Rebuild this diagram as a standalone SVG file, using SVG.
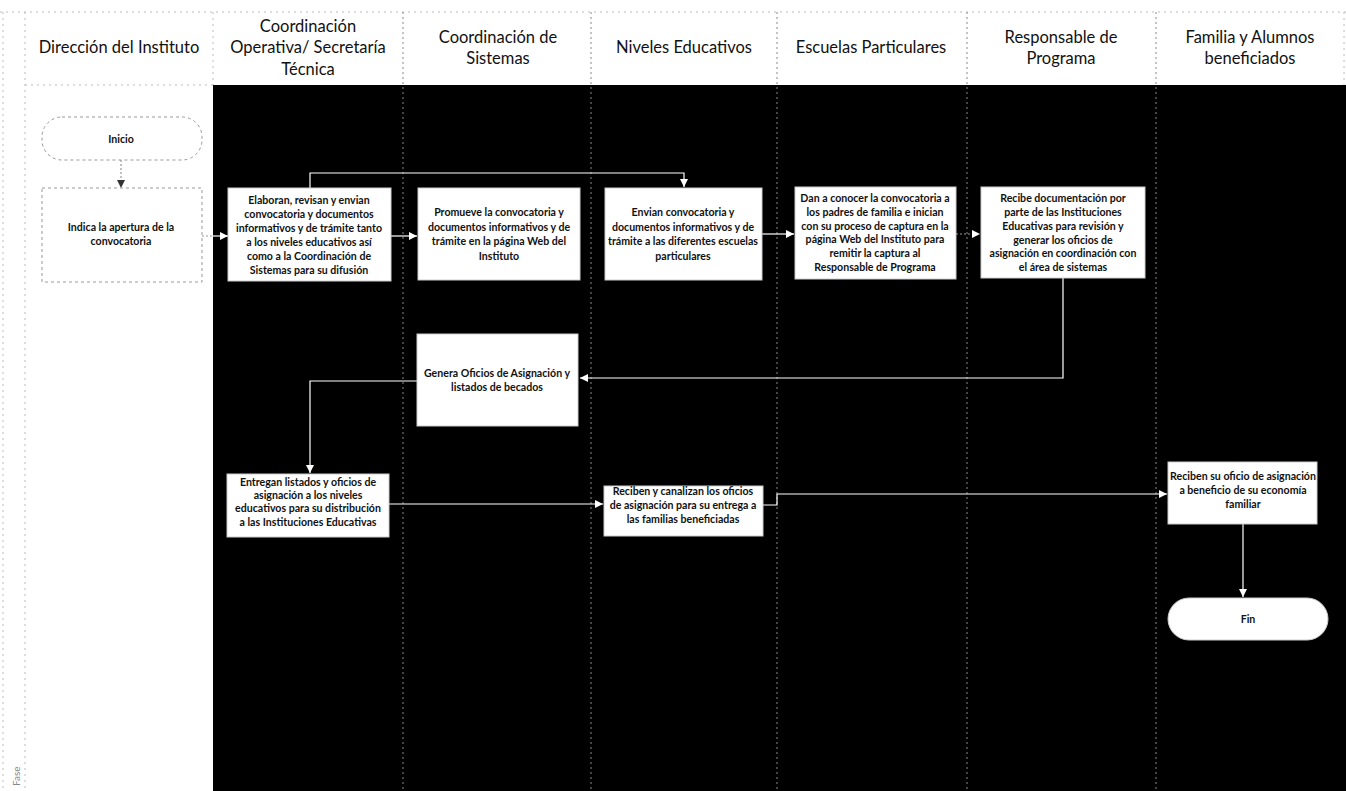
<svg xmlns="http://www.w3.org/2000/svg" width="1346" height="791" viewBox="0 0 1346 791">
<style>
.hd{font-family:Lato,"Liberation Sans",sans-serif;font-size:16.5px;fill:#111;text-anchor:middle}
.tx{font-family:Lato,"Liberation Sans",sans-serif;font-size:10.6px;font-weight:bold;fill:#111;text-anchor:middle}
.box{fill:#fff;stroke:#ccc;stroke-width:1}
.dbox{fill:#fff;stroke:#999;stroke-width:1;stroke-dasharray:3 3}
.lane{stroke:#888;stroke-width:1;stroke-dasharray:2 3;fill:none}
.lanel{stroke:#bbb;stroke-width:1;stroke-dasharray:2 4;fill:none}
.conn{stroke:#fff;stroke-width:1.2;fill:none}
.connd{stroke:#999;stroke-width:1.2;fill:none;stroke-dasharray:2 2}
</style>
<defs>
<marker id="aw" viewBox="0 0 10 10" refX="10" refY="5" markerWidth="8" markerHeight="8" markerUnits="userSpaceOnUse" orient="auto"><path d="M0,0L10,5L0,10z" fill="#fff"/></marker>
<marker id="ak" viewBox="0 0 10 10" refX="10" refY="5" markerWidth="8" markerHeight="8" markerUnits="userSpaceOnUse" orient="auto"><path d="M0,0L10,5L0,10z" fill="#333"/></marker>
</defs>
<rect width="1346" height="791" fill="#fff"/>
<rect x="213" y="85" width="1133" height="706" fill="#000"/>
<g id="lanes">
<line class="lanel" x1="0" y1="12" x2="1346" y2="12"/>
<line class="lanel" x1="25" y1="85" x2="213" y2="85"/>
<line class="lanel" x1="25" y1="12" x2="25" y2="791"/>
<line class="lanel" x1="3" y1="12" x2="3" y2="791"/>
<line class="lanel" x1="213" y1="12" x2="213" y2="85"/>
<line class="lane" x1="403" y1="12" x2="403" y2="791"/>
<line class="lane" x1="591" y1="12" x2="591" y2="791"/>
<line class="lane" x1="777" y1="12" x2="777" y2="791"/>
<line class="lane" x1="967" y1="12" x2="967" y2="791"/>
<line class="lane" x1="1156" y1="12" x2="1156" y2="791"/>
<line class="lanel" x1="1344" y1="12" x2="1344" y2="85"/>
</g>
<g id="headers">
<text class="hd" x="119" y="53">Dirección del Instituto</text>
<text class="hd" x="308" y="32">Coordinación</text>
<text class="hd" x="308" y="53">Operativa/ Secretaría</text>
<text class="hd" x="308" y="75">Técnica</text>
<text class="hd" x="498" y="43">Coordinación de</text>
<text class="hd" x="498" y="64">Sistemas</text>
<text class="hd" x="684" y="53">Niveles Educativos</text>
<text class="hd" x="871" y="53">Escuelas Particulares</text>
<text class="hd" x="1061" y="43">Responsable de</text>
<text class="hd" x="1061" y="64">Programa</text>
<text class="hd" x="1250" y="43">Familia y Alumnos</text>
<text class="hd" x="1250" y="64">beneficiados</text>
<text x="20" y="786" transform="rotate(-90 20 786)" font-family="Lato,'Liberation Sans',sans-serif" font-size="10" fill="#888">Fase</text>
</g>
<g id="connectors">
<path class="connd" d="M121,160V188" marker-end="url(#ak)"/>
<path class="connd" d="M202,236H213"/>
<path class="conn" d="M213,236H228" marker-end="url(#aw)"/>
<path class="conn" d="M310,188V173H684V187" marker-end="url(#aw)"/>
<path class="conn" d="M391,236H417" marker-end="url(#aw)"/>
<path class="conn" d="M762,234H794" marker-end="url(#aw)"/>
<path class="connd" d="M956,234H980" marker-end="url(#aw)"/>
<path class="conn" d="M1063,278V378H580" marker-end="url(#aw)"/>
<path class="conn" d="M417,381H310V473" marker-end="url(#aw)"/>
<path class="conn" d="M389,504H603" marker-end="url(#aw)"/>
<path class="conn" d="M763,505H777V494H1167" marker-end="url(#aw)"/>
<path class="conn" d="M1243,524V597" marker-end="url(#aw)"/>
</g>
<g id="inicio">
<rect class="dbox" x="42" y="117" width="160" height="43" rx="20"/>
<text class="tx" x="121" y="143">Inicio</text>
</g>
<g id="indica">
<rect class="dbox" x="42" y="188" width="160" height="94"/>
<text class="tx" x="121" y="231">Indica la apertura de la</text>
<text class="tx" x="121" y="245">convocatoria</text>
</g>
<g id="elaboran">
<rect class="box" x="228" y="188" width="163" height="93"/>
<text class="tx" x="309" y="204">Elaboran, revisan y envian</text>
<text class="tx" x="309" y="218">convocatoria y documentos</text>
<text class="tx" x="309" y="232">informativos y de trámite tanto</text>
<text class="tx" x="309" y="246">a los niveles educativos así</text>
<text class="tx" x="309" y="260">como  a la Coordinación de</text>
<text class="tx" x="309" y="274">Sistemas para su difusión</text>
</g>
<g id="promueve">
<rect class="box" x="418" y="188" width="162" height="92"/>
<text class="tx" x="499" y="216">Promueve la convocatoria y</text>
<text class="tx" x="499" y="231">documentos informativos y de</text>
<text class="tx" x="499" y="245">trámite en la página Web del</text>
<text class="tx" x="499" y="260">Instituto</text>
</g>
<g id="envian">
<rect class="box" x="605" y="188" width="157" height="92"/>
<text class="tx" x="683" y="216">Envian convocatoria y</text>
<text class="tx" x="683" y="231">documentos informativos y de</text>
<text class="tx" x="683" y="245">trámite a las diferentes escuelas</text>
<text class="tx" x="683" y="260">particulares</text>
</g>
<g id="dan">
<rect class="box" x="795" y="187" width="161" height="92"/>
<text class="tx" x="875" y="202">Dan a conocer la convocatoria a</text>
<text class="tx" x="875" y="216">los padres de familia e inician</text>
<text class="tx" x="875" y="230">con su proceso de captura en la</text>
<text class="tx" x="875" y="243">página Web del Instituto  para</text>
<text class="tx" x="875" y="257">remitir la captura al</text>
<text class="tx" x="875" y="271">Responsable de Programa</text>
</g>
<g id="recibe">
<rect class="box" x="981" y="187" width="164" height="91"/>
<text class="tx" x="1063" y="202">Recibe documentación por</text>
<text class="tx" x="1063" y="216">parte de las Instituciones</text>
<text class="tx" x="1063" y="230">Educativas para revisión y</text>
<text class="tx" x="1063" y="244">generar los oficios de</text>
<text class="tx" x="1063" y="257">asignación en coordinación con</text>
<text class="tx" x="1063" y="271">el área de sistemas</text>
</g>
<g id="genera">
<rect class="box" x="417" y="334" width="161" height="92"/>
<text class="tx" x="497" y="377">Genera Oficios de Asignación y</text>
<text class="tx" x="497" y="391">listados de becados</text>
</g>
<g id="entregan">
<rect class="box" x="227" y="474" width="162" height="63"/>
<text class="tx" x="308" y="486">Entregan listados y oficios de</text>
<text class="tx" x="308" y="499">asignación a los niveles</text>
<text class="tx" x="308" y="512">educativos para su distribución</text>
<text class="tx" x="308" y="526">a las Instituciones Educativas</text>
</g>
<g id="reciben">
<rect class="box" x="604" y="486" width="159" height="50"/>
<text class="tx" x="683" y="495">Reciben y canalizan los oficios</text>
<text class="tx" x="683" y="509">de asignación para su entrega a</text>
<text class="tx" x="683" y="523">las familias beneficiadas</text>
</g>
<g id="reciben-oficio">
<rect class="box" x="1168" y="462" width="149" height="62"/>
<text class="tx" x="1243" y="480">Reciben su oficio de asignación</text>
<text class="tx" x="1243" y="494">a beneficio de su economía</text>
<text class="tx" x="1243" y="508">familiar</text>
</g>
<g id="fin">
<rect class="box" x="1168" y="598" width="160" height="42" rx="21"/>
<text class="tx" x="1248" y="623">Fin</text>
</g>
</svg>
